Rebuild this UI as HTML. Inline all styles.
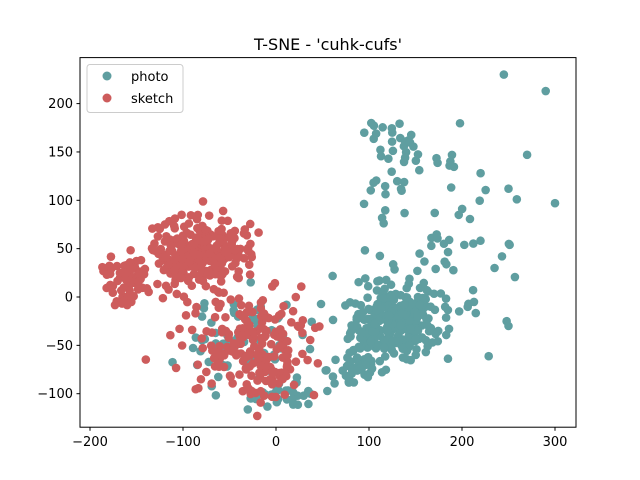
<!DOCTYPE html>
<html><head><meta charset="utf-8"><style>
html,body{margin:0;padding:0;background:#fff}
svg{display:block;font-family:"DejaVu Sans","Liberation Sans",sans-serif}
</style></head><body>
<svg id="s" width="640" height="480" viewBox="0 0 640 480">
<rect width="640" height="480" fill="#fff"/>
<text x="328" y="50" font-size="16" text-anchor="middle">T-SNE - 'cuhk-cufs'</text>
<defs><clipPath id="c"><rect x="80" y="57.6" width="496" height="369.6"/></clipPath></defs>
<g id="pts" clip-path="url(#c)"></g>
<rect x="80" y="57.6" width="496" height="369.6" fill="none" stroke="#000" stroke-width="1"/>
<g id="ax" font-size="13" fill="#000"></g>
<g>
<rect x="87" y="64.5" width="96" height="48" rx="3" fill="#fff" fill-opacity="0.8" stroke="#ccc"/>
<circle cx="107" cy="76" r="4.5" fill="#5F9EA0"/>
<text x="131" y="81" font-size="13">photo</text>
<circle cx="107" cy="98" r="4.5" fill="#CD5C5C"/>
<text x="131" y="103" font-size="13">sketch</text>
</g>
</svg>
<script>
var NS="http://www.w3.org/2000/svg";
function px(x){return 276+0.93*x}
function py(y){return 297-0.967*y}
var ax=document.getElementById("ax");
function el(t,a,p,txt){var e=document.createElementNS(NS,t);for(var k in a)e.setAttribute(k,a[k]);if(txt!==undefined)e.textContent=txt;p.appendChild(e);return e}
[-200,-100,0,100,200,300].forEach(function(v){var x=px(v);
 el("line",{x1:x,x2:x,y1:427.2,y2:430.7,stroke:"#000"},ax);
 el("text",{x:x,y:446,"text-anchor":"middle"},ax,String(v).replace("-","\u2212"));});
[-100,-50,0,50,100,150,200].forEach(function(v){var y=py(v);
 el("line",{x1:76.5,x2:80,y1:y,y2:y,stroke:"#000"},ax);
 el("text",{x:73,y:y+4.5,"text-anchor":"end"},ax,String(v).replace("-","\u2212"));});
var seed=12345;function r(){seed=(seed*1103515245+12345)%2147483648;return seed/2147483648}
function g(){var u=r()||1e-6,v=r();return Math.sqrt(-2*Math.log(u))*Math.cos(6.2832*v)}
var P=document.getElementById("pts");
function dot(x,y,c){el("circle",{cx:px(x),cy:py(y),r:4.3,fill:c},P)}
function cl(cx,cy,sx,sy,n,c){for(var i=0;i<n;i++)dot(cx+g()*sx,cy+g()*sy,c)}
function un(x0,x1,y0,y1,n,c){for(var i=0;i<n;i++)dot(x0+r()*(x1-x0),y0+r()*(y1-y0),c)}
var T="#5F9EA0",R="#CD5C5C";
cl(125,-28,22,18,260,T);
cl(150,-10,35,20,60,T);
cl(85,-75,15,12,40,T);
un(60,260,20,120,35,T);
un(90,200,110,190,28,T);
cl(130,155,12,8,15,T);
[[245,230],[290,213],[300,97],[270,147],[250,112],[248,-25],[250,-30],[220,128],[235,30],[243,42]].forEach(function(p){dot(p[0],p[1],T)});
cl(-35,-45,30,25,85,T);
cl(10,-100,18,8,25,T);
cl(-85,42,25,18,260,R);
cl(-160,15,12,12,60,R);
cl(-30,-45,35,26,170,R);
cl(-10,-78,14,14,50,R);
cl(-50,62,15,15,25,R);
</script>
</body></html>
